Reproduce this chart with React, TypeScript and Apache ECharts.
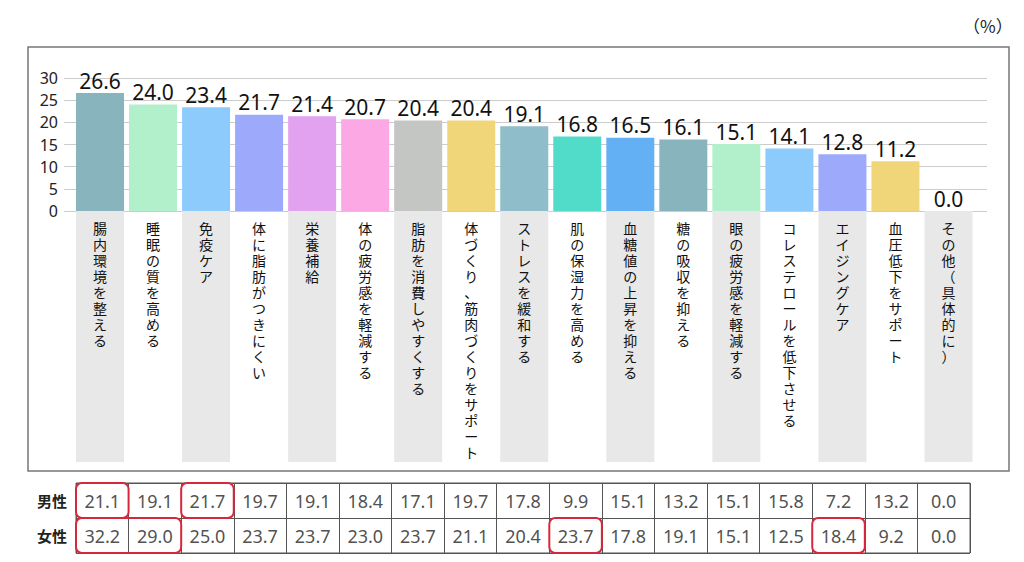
import React, { useEffect, useRef } from "react";
import * as echarts from "echarts";

const categories = [
  "腸内環境を整える",
  "睡眠の質を高める",
  "免疫ケア",
  "体に脂肪がつきにくい",
  "栄養補給",
  "体の疲労感を軽減する",
  "脂肪を消費しやすくする",
  "体づくり、筋肉づくりをサポート",
  "ストレスを緩和する",
  "肌の保湿力を高める",
  "血糖値の上昇を抑える",
  "糖の吸収を抑える",
  "眼の疲労感を軽減する",
  "コレステロールを低下させる",
  "エイジングケア",
  "血圧低下をサポート",
  "その他（具体的に）",
];
const totals = [26.6, 24.0, 23.4, 21.7, 21.4, 20.7, 20.4, 20.4, 19.1, 16.8, 16.5, 16.1, 15.1, 14.1, 12.8, 11.2, 0.0];
const male = [21.1, 19.1, 21.7, 19.7, 19.1, 18.4, 17.1, 19.7, 17.8, 9.9, 15.1, 13.2, 15.1, 15.8, 7.2, 13.2, 0.0];
const female = [32.2, 29.0, 25.0, 23.7, 23.7, 23.0, 23.7, 21.1, 20.4, 23.7, 17.8, 19.1, 15.1, 12.5, 18.4, 9.2, 0.0];
const rowLabels = ["男性", "女性"];
// highlighted cells: [startCol, endCol, rowIndex]
const highlights = [
  [0, 0, 0],
  [2, 2, 0],
  [0, 1, 1],
  [9, 9, 1],
  [14, 14, 1],
];
const stripe = [1, 0, 1, 0, 1, 0, 1, 0, 1, 0, 1, 0, 1, 0, 1, 0, 1];
const barColors = [
  "#88b5bd", "#b2f0cc", "#8ecbfd", "#9daafb", "#e3a2ef", "#fba8e4", "#c4c6c4", "#f0d678",
  "#8fbdc9", "#50dcc8", "#64b0f5", "#88b5bd", "#b2f0cc", "#8ecbfd", "#9daafb", "#f0d678", "#c4c6c4",
];
const yMin = 0;
const yMax = 30;
const yInterval = 5;

const FONT = "'Noto Sans', 'Noto Sans CJK JP', sans-serif";

export default function App() {
  const ref = useRef<HTMLDivElement>(null);
  useEffect(() => {
    if (!ref.current) return;
    const chart = echarts.init(ref.current, undefined, { renderer: "svg" });
    const tableData: any[] = [];
    male.forEach((v, i) => tableData.push([i, 0, v]));
    female.forEach((v, i) => tableData.push([i, 1, v]));
    chart.setOption({
      animation: false,
      backgroundColor: "#ffffff",
      textStyle: { fontFamily: FONT },
      grid: [
        { left: 64, right: 37, top: 78, bottom: 351 },
        { left: 73.5, right: 49, top: 78, bottom: 351 },
        { left: 73.5, right: 49, top: 211, bottom: 100 },
        { left: 76, right: 54, top: 483, bottom: 9, show: true, borderColor: "#555", borderWidth: 1 },
      ],
      xAxis: [
        { gridIndex: 0, type: "value", show: false },
        {
          gridIndex: 1,
          type: "category",
          data: categories,
          z: 10,
          axisLine: { show: false },
          axisTick: { show: false },
          axisLabel: {
            interval: 0,
            margin: 10,
            fontSize: 14,
            lineHeight: 16,
            color: "#111",
            fontFamily: "'Liberation Sans', 'Noto Sans CJK JP', sans-serif",
            formatter: (v: string) => Array.from(v).join("\n"),
          },
        },
        { gridIndex: 2, type: "category", data: categories, show: false },
        {
          gridIndex: 3,
          type: "category",
          data: categories,
          axisLine: { show: false },
          axisTick: { show: false },
          axisLabel: { show: false },
          splitLine: { show: true, interval: 0, lineStyle: { color: "#555", width: 1 } },
        },
      ],
      yAxis: [
        {
          gridIndex: 0,
          type: "value",
          min: yMin,
          max: yMax,
          interval: yInterval,
          axisLine: { show: false },
          axisTick: { show: false },
          axisLabel: { margin: 6, fontSize: 16, color: "#222" },
          splitLine: { lineStyle: { color: "#cccccc", width: 1 } },
        },
        { gridIndex: 1, type: "value", min: yMin, max: yMax, show: false },
        { gridIndex: 2, type: "value", min: 0, max: 1, show: false },
        {
          gridIndex: 3,
          type: "category",
          data: rowLabels,
          inverse: true,
          axisLine: { show: false },
          axisTick: { show: false },
          axisLabel: { margin: 9, fontSize: 15, fontWeight: "bold", color: "#222" },
          splitLine: { show: true, interval: 0, lineStyle: { color: "#555", width: 1 } },
        },
      ],
      series: [
        {
          type: "bar",
          xAxisIndex: 2,
          yAxisIndex: 2,
          z: 1,
          barWidth: 48,
          silent: true,
          data: stripe.map((s) => ({ value: 1, itemStyle: { color: s ? "#e8e8e8" : "rgba(0,0,0,0)" } })),
        },
        {
          type: "bar",
          xAxisIndex: 1,
          yAxisIndex: 1,
          barWidth: 48,
          data: totals.map((v, i) => ({ value: v, itemStyle: { color: barColors[i] } })),
          label: {
            show: true,
            position: "top",
            distance: 2,
            fontSize: 21,
            color: "#111",
            fontFamily: "'Noto Sans', sans-serif",
            formatter: (p: any) => Number(p.value).toFixed(1),
          },
        },
        {
          type: "scatter",
          xAxisIndex: 3,
          yAxisIndex: 3,
          symbolSize: 1,
          itemStyle: { color: "rgba(0,0,0,0)" },
          data: tableData,
          label: {
            show: true,
            position: "inside",
            fontSize: 18,
            color: "#222",
            fontFamily: "'Noto Sans', sans-serif",
            formatter: (p: any) => Number(p.value[2]).toFixed(1),
          },
        },
        {
          type: "custom",
          xAxisIndex: 3,
          yAxisIndex: 3,
          z: 5,
          data: highlights,
          encode: { x: [0, 1], y: 2 },
          renderItem: (_params: any, api: any) => {
            const s = api.coord([api.value(0), api.value(2)]);
            const e = api.coord([api.value(1), api.value(2)]);
            const size = api.size([1, 1]);
            return {
              type: "rect",
              shape: {
                x: s[0] - size[0] / 2,
                y: s[1] - size[1] / 2,
                width: e[0] - s[0] + size[0],
                height: size[1],
                r: 6,
              },
              style: { fill: "none", stroke: "#d6283c", lineWidth: 2 },
            };
          },
        },
      ],
      graphic: [
        {
          type: "rect",
          shape: { x: 28, y: 47, width: 981, height: 424 },
          style: { fill: "none", stroke: "#777", lineWidth: 1.5 },
          silent: true,
        },
        {
          type: "text",
          x: 963,
          y: 25,
          style: {
            text: "（%）",
            fontSize: 17,
            fill: "#222",
            fontFamily: "'Noto Sans CJK JP', sans-serif",
            verticalAlign: "middle",
          },
        },
      ],
    });
    return () => chart.dispose();
  }, []);
  return <div ref={ref} style={{ position: "fixed", left: 0, top: 0, width: 1024, height: 562 }} />;
}
